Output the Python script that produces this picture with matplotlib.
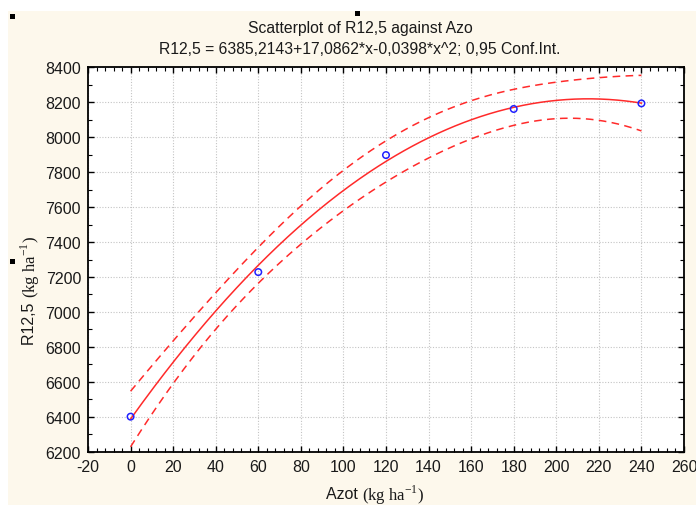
import numpy as np
import matplotlib
matplotlib.use("Agg")
import matplotlib.pyplot as plt
from matplotlib.patches import Rectangle
from matplotlib.ticker import AutoMinorLocator

plt.rcParams["axes.unicode_minus"] = False

# data
azot = [0, 60, 120, 180, 240]
r125 = [6400, 7228, 7898, 8162, 8194]
T_CRIT = 4.303  # t(0.975, df=2)

title1 = "Scatterplot of R12,5 against Azo"
title2 = "R12,5 = 6385,2143+17,0862*x-0,0398*x^2; 0,95 Conf.Int."
xticks = list(range(-20, 261, 20))
yticks = list(range(6200, 8401, 200))

W, H = 696, 506
fig = plt.figure(figsize=(W / 100, H / 100), dpi=100, facecolor="white")
fig.patches.append(Rectangle((8 / W, 0), 1, 1 - 12 / H, transform=fig.transFigure,
                             facecolor="#FDF8EC", edgecolor="none", zorder=-10))
for (px, py) in [(10, 15), (355, 12), (10, 260)]:
    fig.patches.append(Rectangle((px / W, 1 - (py + 5) / H), 5 / W, 5 / H,
                                 transform=fig.transFigure, facecolor="black",
                                 edgecolor="none", zorder=5))

L, R, T, B = 88, 684, 68.4, 452.6
ax = fig.add_axes([L / W, 1 - B / H, (R - L) / W, (B - T) / H])
ax.set_facecolor("white")

x = np.array(azot, float)
y = np.array(r125, float)
X = np.vstack([np.ones_like(x), x, x ** 2]).T
beta, *_ = np.linalg.lstsq(X, y, rcond=None)
resid = y - X @ beta
s2 = resid @ resid / (len(x) - 3)
XtXi = np.linalg.inv(X.T @ X)
xs = np.linspace(x.min(), x.max(), 300)
Xs = np.vstack([np.ones_like(xs), xs, xs ** 2]).T
yfit = Xs @ beta
se = np.sqrt(s2 * np.einsum("ij,jk,ik->i", Xs, XtXi, Xs))

red = "#FF2A2A"
ax.plot(xs, yfit, color=red, lw=1.1, zorder=3)
ax.plot(xs, yfit + T_CRIT * se, color=red, lw=1.1, ls=(0, (5, 3.5)), zorder=3)
ax.plot(xs, yfit - T_CRIT * se, color=red, lw=1.1, ls=(0, (5, 3.5)), zorder=3)
ax.scatter(x, y, s=22, facecolors="none", edgecolors="#2020FF", linewidths=1.1, zorder=4)

ax.set_xlim(-20, 260)
ax.set_ylim(6200, 8400)
ax.set_xticks(xticks)
ax.set_yticks(yticks)
ax.xaxis.set_minor_locator(AutoMinorLocator(5))
ax.yaxis.set_minor_locator(AutoMinorLocator(2))
ax.grid(True, which="major", color="#C4C4C4", ls=(0, (1, 1.5)), lw=0.8)
ax.tick_params(which="both", direction="in", top=True, right=True, color="black")
ax.tick_params(which="major", length=4, width=1)
ax.tick_params(which="minor", length=3, width=0.8)
ax.tick_params(labelsize=11.5, labelcolor="#1a1a1a", pad=5)
for lab in ax.get_xticklabels() + ax.get_yticklabels():
    lab.set_family("Liberation Sans")
for sp in ax.spines.values():
    sp.set_linewidth(1.3)
    sp.set_color("black")

fig.text(360 / W, 1 - 29 / H, title1, ha="center", va="center",
         family="Liberation Sans", fontsize=11.3, color="#1a1a1a")
fig.text(360 / W, 1 - 49 / H, title2, ha="center", va="center",
         family="Liberation Sans", fontsize=11.3, color="#1a1a1a")

# x label
fig.text(362 / W, 1 - 495 / H, "Azot ", ha="right", va="center",
         family="Liberation Sans", fontsize=11.5, color="#1a1a1a")
fig.text(362 / W, 1 - 495 / H, r"(kg ha$^{\mathregular{-1}}$)", ha="left", va="center",
         family="Liberation Serif", fontsize=12, color="#1a1a1a")
# y label
fig.text(30 / W, 1 - 298 / H, "R12,5 ", ha="center", va="top", rotation=90,
         family="Liberation Sans", fontsize=11.5, color="#1a1a1a")
fig.text(30 / W, 1 - 298 / H, r"(kg ha$^{\mathregular{-1}}$)", ha="center", va="bottom", rotation=90,
         family="Liberation Serif", fontsize=12, color="#1a1a1a")

fig.savefig("out.png", dpi=100, facecolor=fig.get_facecolor())
